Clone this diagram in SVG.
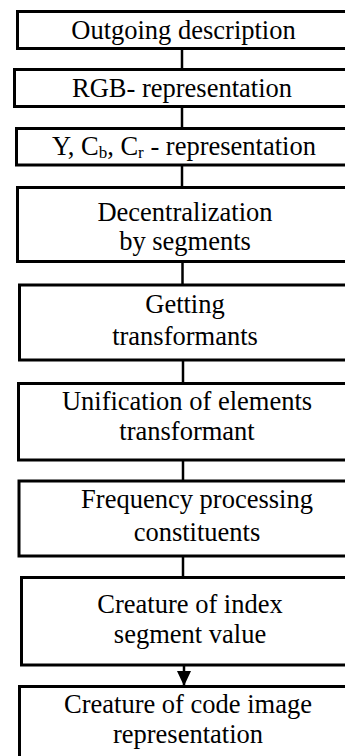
<svg xmlns="http://www.w3.org/2000/svg" width="345" height="756" viewBox="0 0 345 756">
  <style>
    .box { fill: #fff; stroke: #000; stroke-width: 3; }
    .lbl { font-family: "Liberation Serif", "Times New Roman", serif; font-size: 26.5px; fill: #000; text-anchor: middle; }
    .sub { font-size: 17px; }
    .wire { stroke: #000; stroke-width: 2.5; fill: none; }
  </style>
  <defs>
    <marker id="head" markerUnits="userSpaceOnUse" markerWidth="16" markerHeight="14" refX="15" refY="7" orient="auto">
      <path d="M0,0 L15,7 L0,14 Z" fill="#000"/>
    </marker>
  </defs>

  <rect width="345" height="756" fill="#fff"/>

  <!-- connectors between consecutive steps -->
  <g id="connectors">
    <line class="wire" x1="182" y1="48.5" x2="182" y2="69.5"/>
    <line class="wire" x1="182" y1="106.5" x2="182" y2="128.5"/>
    <line class="wire" x1="182" y1="165" x2="182" y2="187.5"/>
    <line class="wire" x1="182.5" y1="261.5" x2="182.5" y2="285"/>
    <line class="wire" x1="183" y1="360" x2="183" y2="383.5"/>
    <line class="wire" x1="183" y1="460" x2="183" y2="481"/>
    <line class="wire" x1="183" y1="556" x2="183" y2="577.5"/>
    <line class="wire" x1="184" y1="665" x2="184" y2="686" marker-end="url(#head)"/>
  </g>

  <g id="n1">
    <rect class="box" x="17.5" y="11.5" width="340" height="37"/>
    <text class="lbl" x="183.5" y="38.5">Outgoing description</text>
  </g>

  <g id="n2">
    <rect class="box" x="14.5" y="69.5" width="340" height="37"/>
    <text class="lbl" x="182" y="96.5">RGB- representation</text>
  </g>

  <g id="n3">
    <rect class="box" x="16.5" y="128.5" width="340" height="36.5"/>
    <text class="lbl" x="184" y="155">Y, C<tspan class="sub" dy="3">b</tspan><tspan dy="-3">, C</tspan><tspan class="sub" dy="3">r</tspan><tspan dy="-3"> - representation</tspan></text>
  </g>

  <g id="n4">
    <rect class="box" x="17.5" y="187.5" width="340" height="74"/>
    <text class="lbl" x="185" y="220.5">Decentralization</text>
    <text class="lbl" x="185" y="250">by segments</text>
  </g>

  <g id="n5">
    <rect class="box" x="19.5" y="285" width="340" height="75"/>
    <text class="lbl" x="185" y="313">Getting</text>
    <text class="lbl" x="185" y="345">transformants</text>
  </g>

  <g id="n6">
    <rect class="box" x="18.5" y="383.5" width="340" height="76.5"/>
    <text class="lbl" x="187" y="410">Unification of elements</text>
    <text class="lbl" x="187" y="440">transformant</text>
  </g>

  <g id="n7">
    <rect class="box" x="19" y="481" width="340" height="75"/>
    <text class="lbl" x="197" y="508">Frequency processing</text>
    <text class="lbl" x="197" y="540.5">constituents</text>
  </g>

  <g id="n8">
    <rect class="box" x="21.5" y="577.5" width="340" height="87.5"/>
    <text class="lbl" x="190" y="613">Creature of index</text>
    <text class="lbl" x="190" y="643">segment value</text>
  </g>

  <g id="n9">
    <rect class="box" x="19.5" y="686.5" width="340" height="80"/>
    <text class="lbl" x="188" y="713">Creature of code image</text>
    <text class="lbl" x="188" y="743">representation</text>
  </g>
</svg>
